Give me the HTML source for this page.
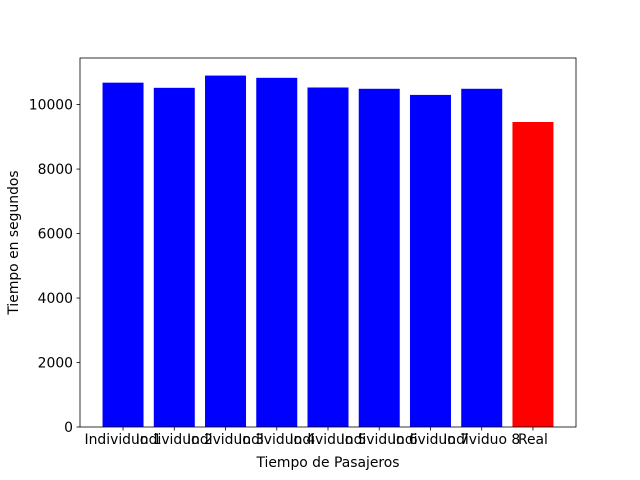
<!DOCTYPE html>
<html><head><meta charset="utf-8"><style>
body{margin:0;background:#fff;}
svg{display:block;font-family:"DejaVu Sans","Liberation Sans",sans-serif;}
</style></head><body>
<svg id="chart" width="640" height="480">
<rect width="640" height="480" fill="#fff"/>
<g id="bars"></g>
<g id="axes"></g>
</svg>
<script>
const categories = ["Individuo 1","Individuo 2","Individuo 3","Individuo 4","Individuo 5","Individuo 6","Individuo 7","Individuo 8","Real"];
const values = [10680,10520,10900,10830,10530,10490,10300,10490,9460];
const colors = ["blue","blue","blue","blue","blue","blue","blue","blue","red"];
const yTicks = [0,2000,4000,6000,8000,10000];

const NS="http://www.w3.org/2000/svg";
const L=80,R=576,T=58,B=427;
const maxV=Math.max(...values)*1.05;
const xMin=-0.84,xMax=categories.length-1+0.84;
function xs(v){return L+(v-xMin)/(xMax-xMin)*(R-L);}
function ys(v){return B-v/maxV*(B-T);}
function mk(tag,attrs,parent){const e=document.createElementNS(NS,tag);for(const k in attrs)e.setAttribute(k,attrs[k]);parent.appendChild(e);return e;}
const bars=document.getElementById('bars'),axes=document.getElementById('axes');
values.forEach((v,i)=>{
  const r=mk('rect',{x:xs(i-0.4),y:ys(v),width:xs(i+0.4)-xs(i-0.4),height:B-ys(v),fill:colors[i]},bars);
  
  
  mk('line',{x1:xs(i),x2:xs(i),y1:B,y2:B+3.5,stroke:'#000','stroke-width':0.8},axes);
  const t=mk('text',{x:xs(i),y:B+17,'text-anchor':'middle','font-size':'13.9px',fill:'#000'},axes);
  t.textContent=categories[i];
  
  
});
yTicks.forEach(v=>{
  mk('line',{x1:L-3.5,x2:L,y1:ys(v),y2:ys(v),stroke:'#000','stroke-width':0.8},axes);
  const t=mk('text',{x:L-7,y:ys(v)+5,'text-anchor':'end','font-size':'13.9px',fill:'#000'},axes);
  t.textContent=v;
  
  
});
const f=mk('rect',{x:L,y:T,width:R-L,height:B-T,fill:'none',stroke:'#000','stroke-width':0.8},axes);


const xt=mk('text',{x:(L+R)/2,y:467,'text-anchor':'middle','font-size':'13.9px'},axes);
xt.textContent='Tiempo de Pasajeros';


const yt=mk('text',{x:18,y:(T+B)/2,'text-anchor':'middle','font-size':'13.9px',transform:'rotate(-90 18 '+((T+B)/2)+')'},axes);
yt.textContent='Tiempo en segundos';


</script>
</body></html>
